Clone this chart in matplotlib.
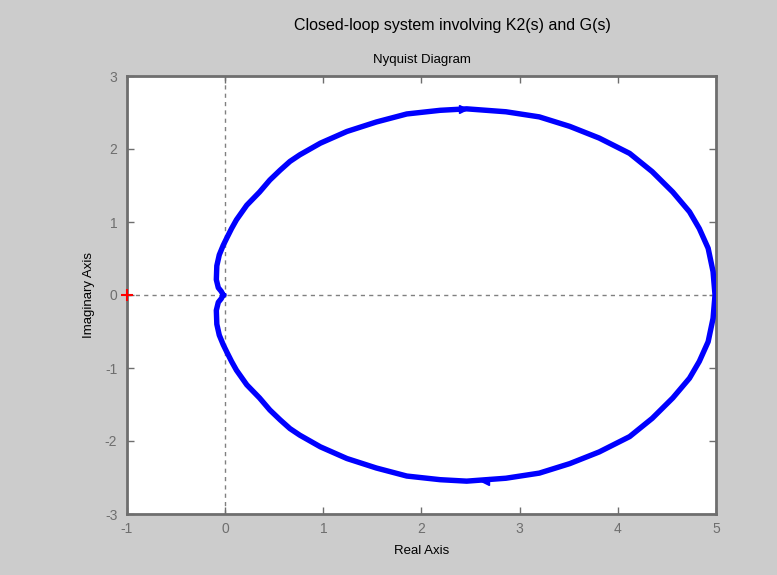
import numpy as np
import matplotlib
matplotlib.use("Agg")
import matplotlib.pyplot as plt

plt.rcParams['font.family'] = ['Liberation Sans', 'DejaVu Sans']
plt.rcParams['axes.unicode_minus'] = False

# upper half of the Nyquist curve (omega from 0 to +inf)
re_upper = [4.99, 4.98, 4.97, 4.92, 4.83, 4.73, 4.56, 4.35, 4.12, 3.81, 3.51, 3.20,
            2.86, 2.46, 2.19, 1.85, 1.54, 1.24, 0.97, 0.76, 0.66, 0.56, 0.455, 0.35,
            0.22, 0.115, 0.065, 0.02, -0.02, -0.06, -0.085, -0.09, -0.07, -0.04, -0.02]
im_upper = [0.00, 0.16, 0.32, 0.64, 0.91, 1.14, 1.41, 1.69, 1.94, 2.15, 2.31, 2.44,
            2.51, 2.55, 2.53, 2.48, 2.37, 2.24, 2.08, 1.92, 1.83, 1.71, 1.575, 1.41,
            1.23, 1.03, 0.91, 0.79, 0.68, 0.55, 0.40, 0.21, 0.10, 0.05, 0.00]

# direction arrows on the curve
arrow_re = [2.42, 2.65]
arrow_im = [2.55, -2.55]
arrow_dir = ['>', '<']

xticks = [-1, 0, 1, 2, 3, 4, 5]
yticks = [-3, -2, -1, 0, 1, 2, 3]

re = np.array(re_upper)
im = np.array(im_upper)
# lower half is the mirror image (negative frequencies)
re_all = np.concatenate([re[::-1], re[1:]])
im_all = np.concatenate([-im[::-1], im[1:]])

fig = plt.figure(figsize=(7.77, 5.75), dpi=100)
fig.patch.set_facecolor('#cccccc')
ax = fig.add_axes([127 / 777, 61 / 575, 589 / 777, 438 / 575])
ax.set_facecolor('white')

gray = '#6e6e6e'
ax.axhline(0, color='#808080', ls=(0, (3, 3)), lw=1, zorder=1)
ax.axvline(0, color='#808080', ls=(0, (3, 3)), lw=1, zorder=1)

ax.plot(re_all, im_all, color='#0000ff', lw=3.9, solid_joinstyle='round', zorder=3)
for xa, ya, m in zip(arrow_re, arrow_im, arrow_dir):
    ax.plot(xa, ya, marker=m, color='#0000ff', ms=6, zorder=4)

ax.plot(-1, 0, marker='+', color='red', ms=9, mew=1.5, zorder=5, clip_on=False)

ax.set_xlim(-1, 5)
ax.set_ylim(-3, 3)
ax.set_xticks(xticks)
ax.set_yticks(yticks)
ax.tick_params(direction='in', length=5, width=1, colors=gray, labelsize=10,
               top=True, right=True)
ax.tick_params(axis='x', pad=6)
ax.tick_params(axis='y', pad=7)
for s in ax.spines.values():
    s.set_color(gray)
    s.set_linewidth(2)

ax.set_xlabel('Real Axis', fontsize=9.5, labelpad=6)
ax.set_ylabel('Imaginary Axis', fontsize=9.5, labelpad=7)
ax.set_title('Nyquist Diagram', fontsize=9.5, pad=9)
fig.text(0.582, 0.955, 'Closed-loop system involving K2(s) and G(s)',
         ha='center', va='center', fontsize=11.5)

fig.savefig('out.png', dpi=100, facecolor=fig.get_facecolor())
